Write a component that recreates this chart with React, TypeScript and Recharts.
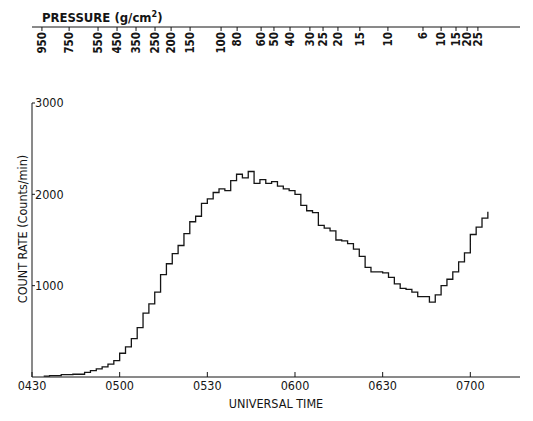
import React from "react";
import { LineChart, Line, XAxis, YAxis, ReferenceLine } from "recharts";

// minutes after 0430 UT, one step every 2 min
const times = [
  4, 6, 8, 10, 12, 14, 16, 18, 20, 22, 24, 26, 28, 30, 32, 34, 36, 38, 40, 42,
  44, 46, 48, 50, 52, 54, 56, 58, 60, 62, 64, 66, 68, 70, 72, 74, 76, 78, 80,
  82, 84, 86, 88, 90, 92, 94, 96, 98, 100, 102, 104, 106, 108, 110, 112, 114,
  116, 118, 120, 122, 124, 126, 128, 130, 132, 134, 136, 138, 140, 142, 144,
  146, 148, 150, 152, 154, 156,
];

// counts / min
const counts = [
  10, 15, 15, 25, 25, 30, 30, 50, 70, 90, 110, 140, 180, 260, 330, 420, 540,
  700, 800, 930, 1120, 1240, 1350, 1440, 1570, 1700, 1760, 1900, 1950, 2020,
  2060, 2040, 2150, 2220, 2180, 2250, 2120, 2160, 2120, 2140, 2090, 2060, 2040,
  2000, 1880, 1820, 1800, 1660, 1630, 1600, 1500, 1490, 1460, 1400, 1320, 1200,
  1150, 1150, 1140, 1090, 1020, 970, 960, 930, 880, 880, 820, 900, 1000, 1070,
  1150, 1260, 1360, 1560, 1640, 1740, 1810,
];

const timeTicks = [0, 30, 60, 90, 120, 150];
const timeLabels = ["0430", "0500", "0530", "0600", "0630", "0700"];

const countTicks = [1000, 2000, 3000];

// balloon pressure marks along the top (position in minutes after 0430)
const pressureTimes = [
  3.4, 12.7, 22.6, 29.1, 35.6, 42.1, 47.6, 54.1, 64.7, 70.2, 78.4, 82.8, 88.3,
  95.1, 99.6, 104.7, 112.2, 121.8, 133.8, 140.0, 145.1, 148.9, 152.6,
];
const pressureLabels = [
  "950", "750", "550", "450", "350", "250", "200", "150", "100", "80", "60",
  "50", "40", "30", "25", "20", "15", "10", "6", "10", "15", "20", "25",
];

const data = times.map((t, i) => ({ t, count: counts[i] }));

const FONT = "'DejaVu Sans Condensed', 'DejaVu Sans', sans-serif";
const INK = "#151515";
const TOP_LINE_Y = 27;

const PressureTick = (props: any) => {
  const { x, payload } = props;
  const idx = pressureTimes.indexOf(payload.value);
  const ty = TOP_LINE_Y + 4;
  return (
    <g>
      <line x1={x} x2={x} y1={TOP_LINE_Y} y2={ty} stroke={INK} strokeWidth={1} />
      <text
        x={x}
        y={ty + 1}
        transform={`rotate(-90 ${x} ${ty + 1})`}
        textAnchor="end"
        dominantBaseline="central"
        fontSize={11.5}
        fontWeight="bold"
        fontFamily={FONT}
        fill={INK}
      >
        {pressureLabels[idx]}
      </text>
    </g>
  );
};

export default function App() {
  return (
    <div
      style={{
        position: "absolute",
        left: 0,
        top: 0,
        width: 533,
        height: 421,
        background: "#fff",
        fontFamily: FONT,
        color: INK,
      }}
    >
      {/* pressure title */}
      <div
        style={{
          position: "absolute",
          left: 42,
          top: 6,
          fontSize: 13,
          fontWeight: "bold",
          lineHeight: "16px",
          whiteSpace: "nowrap",
        }}
      >
        PRESSURE (g/cm<sup style={{ fontSize: 9 }}>2</sup>)
      </div>

      {/* y axis title */}
      <div
        style={{
          position: "absolute",
          left: 22,
          top: 229,
          fontSize: 12.5,
          whiteSpace: "nowrap",
          transform: "translate(-50%, -50%) rotate(-90deg)",
        }}
      >
        COUNT RATE (Counts/min)
      </div>

      <LineChart
        width={533}
        height={421}
        data={data}
        margin={{ top: 7, right: 13, bottom: 14, left: 32 }}
      >
        <XAxis
          xAxisId="time"
          dataKey="t"
          type="number"
          domain={[0, 167]}
          ticks={timeTicks}
          interval={0}
          orientation="bottom"
          height={30}
          tickSize={-5}
          tickMargin={9}
          tickFormatter={(v: number) => timeLabels[timeTicks.indexOf(v)]}
          stroke={INK}
          tick={{ fill: INK, fontSize: 12.5, fontFamily: FONT }}
          label={{
            value: "UNIVERSAL TIME",
            position: "insideBottom",
            offset: -1,
            fill: INK,
            fontSize: 12.5,
            fontFamily: FONT,
          }}
        />
        <XAxis
          xAxisId="pressure"
          dataKey="t"
          type="number"
          orientation="top"
          domain={[0, 167]}
          ticks={pressureTimes}
          interval={0}
          height={20}
          tickLine={false}
          stroke={INK}
          tick={<PressureTick />}
        />
        <YAxis
          yAxisId="count"
          type="number"
          domain={[0, 3832]}
          ticks={countTicks}
          interval={0}
          mirror
          axisLine={false}
          tickSize={3}
          tickMargin={0}
          stroke={INK}
          tick={{ fill: INK, fontSize: 12.5, fontFamily: FONT }}
        />
        <ReferenceLine
          xAxisId="time"
          yAxisId="count"
          segment={[
            { x: 0, y: 0 },
            { x: 0, y: 3000 },
          ]}
          stroke={INK}
          strokeWidth={1}
        />
        <Line
          xAxisId="time"
          yAxisId="count"
          type="stepAfter"
          dataKey="count"
          stroke={INK}
          strokeWidth={1.3}
          dot={false}
          isAnimationActive={false}
        />
      </LineChart>
    </div>
  );
}
